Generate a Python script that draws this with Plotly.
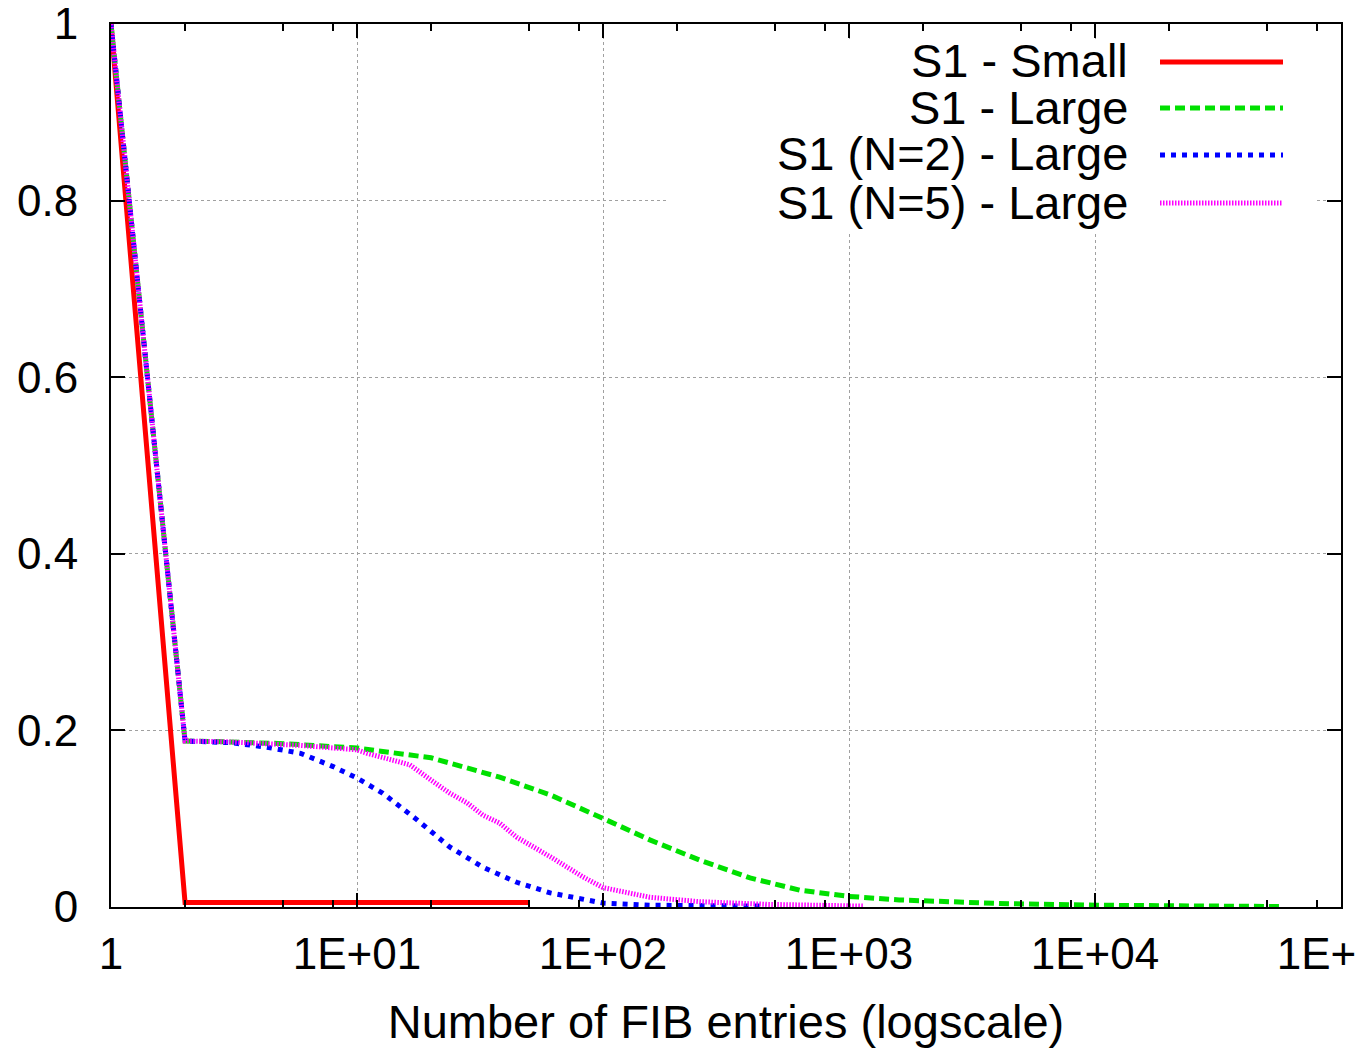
import plotly.graph_objects as go

# ---- data ----
small_x = [1, 2, 50]
small_y = [1, 0.005, 0.005]

large_x = [1, 2, 3, 5, 10, 20, 38, 61, 97, 155, 248, 396, 632, 1000, 1600, 4100, 10000, 30000, 58000]
large_y = [1, 0.188, 0.187, 0.185, 0.180, 0.169, 0.147, 0.127, 0.102, 0.076, 0.053, 0.033, 0.019,
           0.012, 0.008, 0.004, 0.002, 0.001, 0.0005]

n2_x = [1, 2, 3.1, 4.3, 5.9, 8, 10, 12.7, 17.5, 23.8, 32.5, 44.6, 61, 83, 100, 155, 460]
n2_y = [1, 0.188, 0.186, 0.181, 0.174, 0.159, 0.146, 0.129, 0.099, 0.068, 0.045, 0.028, 0.016,
        0.008, 0.0045, 0.002, 0.001]

n5_x = [1, 2, 3, 5.9, 10, 11, 15, 16.4, 20.4, 23.8, 28, 32.5, 38, 44.6, 61, 83, 100, 155, 248, 463, 1150]
n5_y = [1, 0.188, 0.187, 0.183, 0.178, 0.174, 0.164, 0.161, 0.142, 0.129, 0.118, 0.104, 0.095,
        0.079, 0.057, 0.034, 0.022, 0.011, 0.006, 0.003, 0.001]

series_names = ["S1 - Small", "S1 - Large", "S1 (N=2) - Large", "S1 (N=5) - Large"]
series_colors = ["#ff0000", "#00e000", "#0000ff", "#ff00ff"]
series_dash = ["solid", "10px,5px", "5px,6px", "1.5px,1.5px"]

x_tickvals = [1, 10, 100, 1000, 10000, 100000]
x_ticktext = ["1", "1E+01", "1E+02", "1E+03", "1E+04", "1E+05"]
x_minor = [m * 10 ** d for d in range(5) for m in (2, 5, 8)]
y_tickvals = [0, 0.2, 0.4, 0.6, 0.8, 1]
y_ticktext = ["0", "0.2", "0.4", "0.6", "0.8", "1"]

FONT = "Liberation Sans, Arial, Helvetica, sans-serif"

fig = go.Figure()
for xs, ys, name, col, dash in zip([small_x, large_x, n2_x, n5_x], [small_y, large_y, n2_y, n5_y],
                                   series_names, series_colors, series_dash):
    fig.add_trace(go.Scatter(x=xs, y=ys, mode="lines", name=name,
                             line=dict(color=col, width=5, dash=dash), showlegend=False))

OFF = 8  # page body margin
W, H = 1355, 1042
L, R, T, B = 103, 22, 16, 143
pw, ph = W - L - R, H - T - B


def px_x(p):
    return (p - OFF - L) / pw


def px_y(p):
    return (H - B + OFF - p) / ph


shapes = [
    # white box behind the key (hides the grid there, as in the reference)
    dict(type="rect", xref="paper", yref="paper", x0=px_x(668), x1=px_x(1315), y0=px_y(234), y1=px_y(40),
         fillcolor="white", line=dict(width=0), layer="above"),
]
annotations = []
rows = [62, 108, 155, 203]
for name, col, dash, ry in zip(series_names, series_colors, series_dash, rows):
    shapes.append(dict(type="line", xref="paper", yref="paper", x0=px_x(1160), x1=px_x(1283),
                       y0=px_y(ry), y1=px_y(ry), line=dict(color=col, width=5, dash=dash), layer="above"))
    annotations.append(dict(xref="paper", yref="paper", x=px_x(1130), y=px_y(ry - 1), text=name,
                            xanchor="right", yanchor="middle", showarrow=False,
                            font=dict(family=FONT, size=47, color="black")))

fig.update_layout(
    width=W, height=H,
    margin=dict(l=L, r=R, t=T, b=B, autoexpand=False),
    paper_bgcolor="white", plot_bgcolor="white",
    font=dict(family=FONT, size=44, color="black"),
    shapes=shapes, annotations=annotations,
)
fig.update_xaxes(
    type="log", range=[0, 5], automargin=False, ticklabeloverflow="allow",
    tickmode="array", tickvals=x_tickvals, ticktext=x_ticktext,
    tickfont=dict(family=FONT, size=44),
    ticks="inside", ticklen=14, tickwidth=2, tickcolor="black",
    showline=True, linecolor="black", linewidth=2, mirror="ticks",
    showgrid=True, gridcolor="#a0a0a0", griddash="dot", gridwidth=1,
    minor=dict(tickvals=x_minor, ticks="inside", ticklen=7, tickwidth=2, tickcolor="black", showgrid=False),
    ticklabelstandoff=7,
    title=dict(text="Number of FIB entries (logscale)", font=dict(family=FONT, size=47), standoff=28),
    zeroline=False,
)
fig.update_yaxes(
    range=[0, 1], automargin=False, ticklabeloverflow="allow",
    tickmode="array", tickvals=y_tickvals, ticktext=y_ticktext,
    tickfont=dict(family=FONT, size=44),
    ticks="inside", ticklen=14, tickwidth=2, tickcolor="black",
    showline=True, linecolor="black", linewidth=2, mirror="ticks",
    showgrid=True, gridcolor="#a0a0a0", griddash="dot", gridwidth=1,
    ticklabelstandoff=22,
    zeroline=False,
)

fig.write_html("out.html")
